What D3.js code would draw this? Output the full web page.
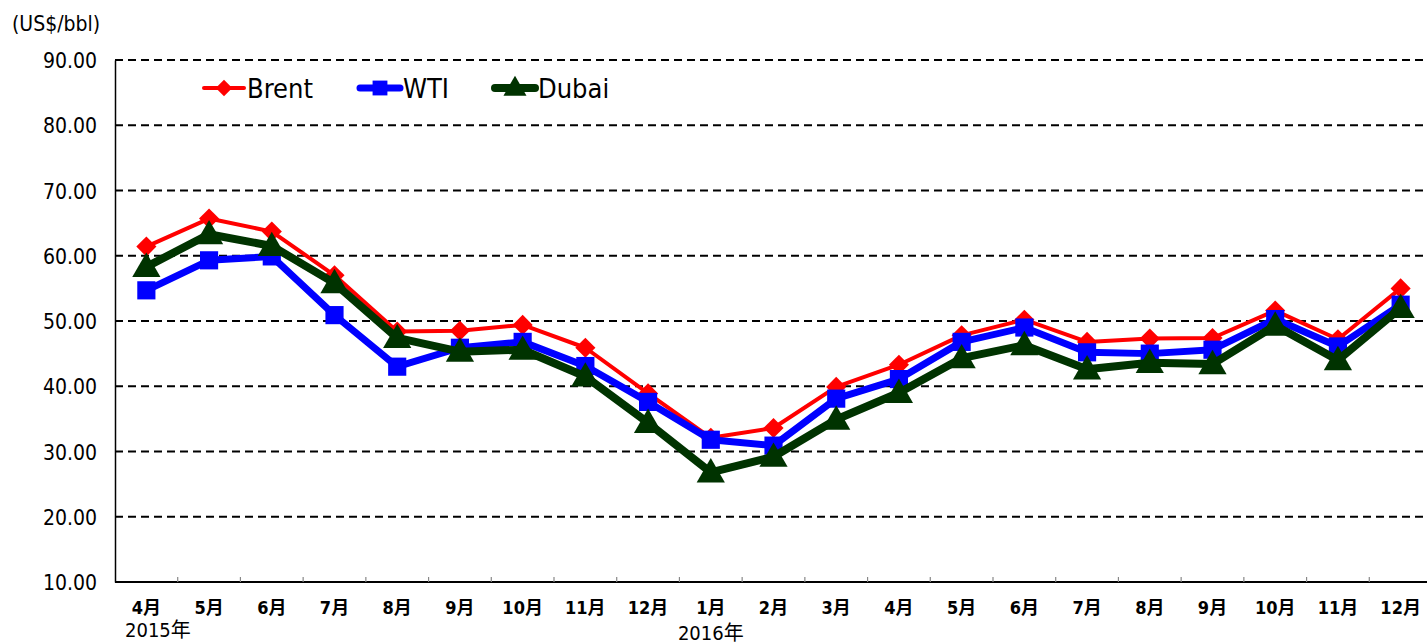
<!DOCTYPE html>
<html>
<head>
<meta charset="utf-8">
<script src="https://cdn.jsdelivr.net/npm/d3@7"></script>
<style>
    body { margin: 0; background: #fff; }
    svg text { font-family: "DejaVu Sans Condensed", "Noto Sans CJK JP", sans-serif; fill: #000; }
</style>
</head>
<body>
<svg id="chart" width="1427" height="644"></svg>
<script>
// months, 2015/4 .. 2016/12
const months = ["4月", "5月", "6月", "7月", "8月", "9月", "10月", "11月", "12月",
    "1月", "2月", "3月", "4月", "5月", "6月", "7月", "8月", "9月", "10月", "11月", "12月"]
const brent = [61.4, 65.7, 63.7, 57.0, 48.4, 48.5, 49.4, 45.9, 38.9, 32.1, 33.6, 39.9,
    43.3, 47.8, 50.2, 46.8, 47.3, 47.4, 51.6, 47.2, 55.0]
const wti = [54.7, 59.3, 59.9, 50.9, 43.0, 45.9, 46.8, 43.1, 37.6, 31.8, 30.9, 38.1,
    41.1, 46.8, 49.0, 45.2, 45.0, 45.6, 50.3, 46.1, 52.5]
const dubai = [58.3, 63.3, 61.5, 55.8, 47.4, 45.3, 45.6, 41.5, 34.4, 26.8, 29.2, 34.9,
    39.0, 44.3, 46.3, 42.6, 43.6, 43.4, 49.3, 44.0, 52.0]
const yTicks = [10, 20, 30, 40, 50, 60, 70, 80, 90]
const years = [{label: "2015年", at: 0}, {label: "2016年", at: 9}]

const series = [
    {name: "Brent", values: brent, color: "#ff0000", width: 4, marker: "diamond"},
    {name: "WTI", values: wti, color: "#0000ff", width: 7, marker: "square"},
    {name: "Dubai", values: dubai, color: "#003300", width: 8, marker: "triangle"}
]

const svg = d3.select("#chart")
const plotLeft = 115, plotRight = 1432, plotTop = 60, plotBottom = 582

const x = d3.scaleBand().domain(d3.range(months.length)).range([plotLeft, plotRight])
const y = d3.scaleLinear().domain([10, 90]).range([plotBottom, plotTop])

// grid lines
svg.append("g")
    .selectAll("line")
    .data(yTicks.filter(t => t > 10))
    .join("line")
    .attr("x1", plotLeft).attr("x2", plotRight)
    .attr("y1", d => y(d)).attr("y2", d => y(d))
    .attr("stroke", "#000")
    .attr("stroke-width", 2)
    .attr("stroke-dasharray", "8,5")

// y axis
const yAxis = svg.append("g")
    .attr("transform", `translate(${plotLeft},0)`)
    .call(d3.axisLeft(y).tickValues(yTicks).tickSize(0).tickPadding(18).tickFormat(d3.format(".2f")))
yAxis.select(".domain").attr("stroke", "#000").attr("stroke-width", 1.5)
yAxis.selectAll("text").style("font-size", "21px").attr("dy", "0.36em")

// x axis
svg.append("line")
    .attr("x1", plotLeft).attr("x2", plotRight)
    .attr("y1", plotBottom).attr("y2", plotBottom)
    .attr("stroke", "#000").attr("stroke-width", 2)
svg.append("g")
    .selectAll("line")
    .data(d3.range(1, months.length))
    .join("line")
    .attr("x1", d => x(d)).attr("x2", d => x(d))
    .attr("y1", plotBottom).attr("y2", plotBottom - 5)
    .attr("stroke", "#888").attr("stroke-width", 1.2)
svg.append("g")
    .selectAll("text")
    .data(months)
    .join("text")
    .attr("x", (d, i) => x(i) + x.bandwidth() / 2)
    .attr("y", 614)
    .attr("text-anchor", "middle")
    .style("font-size", "18px")
    .style("font-weight", "bold")
    .text(d => d)
svg.append("g")
    .selectAll("text")
    .data(years)
    .join("text")
    .attr("x", d => d.at === 0 ? x(0) + 10 : x(d.at) + x.bandwidth() / 2)
    .attr("y", d => d.at === 0 ? 637 : 640)
    .attr("text-anchor", d => d.at === 0 ? "start" : "middle")
    .style("font-size", "20px")
    .text(d => d.label)

svg.append("text")
    .attr("x", 12).attr("y", 31)
    .style("font-size", "21px")
    .text("(US$/bbl)")

function markerPath(type, size) {
    if (type === "diamond") return d3.symbol(d3.symbolSquare, size * 1.35)()
    if (type === "square") return d3.symbol(d3.symbolSquare, size * 2.2)()
    return d3.symbol(d3.symbolTriangle, size * 2.3)()
}

const line = d3.line().x((d, i) => x(i) + x.bandwidth() / 2).y(d => y(d))

series.forEach(s => {
    const g = svg.append("g")
    g.append("path")
        .attr("d", line(s.values))
        .attr("fill", "none")
        .attr("stroke", s.color)
        .attr("stroke-width", s.width)
        .attr("stroke-linejoin", "round")
    g.selectAll("path.mk")
        .data(s.values)
        .join("path")
        .attr("class", "mk")
        .attr("transform", (d, i) => `translate(${x(i) + x.bandwidth() / 2},${y(d) + (s.marker === "triangle" ? 2 : 0)})` +
            (s.marker === "diamond" ? " rotate(45)" : ""))
        .attr("d", markerPath(s.marker, 150))
        .attr("fill", s.color)
})

// legend
const legendPos = [204, 360, 495]
series.forEach((s, i) => {
    const g = svg.append("g").attr("transform", `translate(${legendPos[i]},88)`)
    g.append("line")
        .attr("x1", 0).attr("x2", 40)
        .attr("stroke", s.color)
        .attr("stroke-width", s.width)
        .attr("stroke-linecap", "round")
    g.append("path")
        .attr("transform", `translate(20,${s.marker === "triangle" ? 1 : 0})` + (s.marker === "diamond" ? " rotate(45)" : ""))
        .attr("d", markerPath(s.marker, 100))
        .attr("fill", s.color)
    g.append("text")
        .attr("x", 43).attr("y", 10)
        .style("font-size", "27px")
        .text(s.name)
})
</script>
</body>
</html>
